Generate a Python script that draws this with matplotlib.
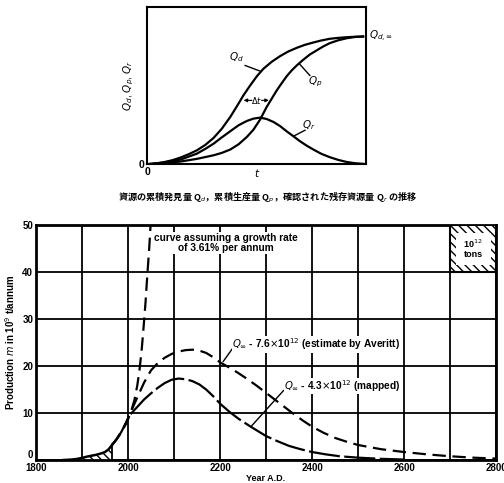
# Hubbert-style coal production cycles, with the Qd/Qp/Qr sketch above

import numpy as np
import matplotlib.pyplot as plt
from matplotlib.patches import Rectangle

plt.rcParams['font.family'] = ['Liberation Sans', 'DejaVu Sans']
plt.rcParams['hatch.linewidth'] = 1.0

# ---- data: top sketch (normalised time, normalised quantity) ----
qd_t = [0, .038, .076, .114, .152, .189, .227, .265, .303, .341, .379, .409, .439, .470,
        .500, .530, .568, .606, .644, .682, .720, .758, .795, .833, .871, .909, .947, .985]
qd_v = [0, .005, .016, .031, .052, .078, .109, .151, .206, .279, .370, .453, .539, .617,
        .688, .747, .802, .846, .883, .911, .935, .953, .969, .982, .989, .994, .998, 1.0]
qp_t = [0, .076, .152, .227, .303, .341, .379, .417, .455, .485, .515, .545, .568, .591,
        .614, .636, .659, .682, .712, .742, .773, .803, .833, .871, .909, .947, .985]
qp_v = [0, .008, .021, .042, .070, .089, .115, .156, .214, .271, .349, .448, .513, .578,
        .635, .688, .734, .773, .818, .859, .891, .922, .948, .970, .986, .996, 1.0]
qr_t = [0, .076, .152, .227, .265, .303, .341, .379, .417, .455, .485, .515, .545, .576,
        .606, .636, .667, .697, .727, .758, .795, .833, .871, .909, .947, .985]
qr_v = [0, .013, .036, .083, .120, .161, .211, .258, .305, .339, .357, .365, .354, .331,
        .299, .258, .219, .180, .146, .115, .081, .055, .034, .018, .008, .003]

# ---- data: bottom chart (year, 10^9 t/annum) ----
hist_years = [1860, 1870, 1880, 1890, 1900, 1910, 1920, 1930, 1940, 1950, 1958, 1966]
hist_prod = [0, 0.05, 0.12, 0.25, 0.45, 0.7, 0.9, 1.1, 1.35, 1.7, 2.3, 3.3]

exp_years = [1966, 1975, 1985, 1995, 2002, 2008, 2014, 2020, 2025, 2030, 2034, 2038, 2042, 2046, 2049]
exp_prod = [3.3, 4.4, 5.9, 7.6, 9.2, 10.8, 12.8, 15.8, 19.2, 23.8, 28.5, 33.5, 39.5, 45.0, 50.0]

av_years = [1966, 1975, 1985, 1995, 2005, 2020, 2035, 2050, 2065, 2080, 2095, 2110, 2125, 2140,
            2155, 2170, 2185, 2200, 2220, 2240, 2260, 2280, 2300, 2320, 2340, 2360, 2380, 2400,
            2425, 2450, 2475, 2500, 2550, 2600, 2650, 2700, 2750, 2800]
av_prod = [3.3, 4.4, 5.9, 7.8, 10.0, 13.3, 16.5, 19.1, 20.7, 21.8, 22.6, 23.1, 23.4, 23.5,
           23.3, 22.8, 21.9, 20.8, 19.7, 18.5, 17.2, 15.8, 14.3, 12.8, 11.3, 9.8, 8.4, 7.1,
           5.8, 4.7, 3.9, 3.2, 2.3, 1.7, 1.2, 0.8, 0.5, 0.3]

map_years = [1966, 1975, 1985, 1995, 2005, 2020, 2035, 2050, 2065, 2080, 2095, 2110, 2125, 2140,
             2155, 2170, 2185, 2200, 2220, 2240, 2265, 2285, 2300, 2325, 2350, 2375, 2400, 2430,
             2460, 2500, 2550, 2600]
map_prod = [3.3, 4.4, 5.9, 7.8, 9.7, 11.3, 12.9, 14.2, 15.4, 16.4, 17.1, 17.35, 17.2, 16.8,
            16.1, 15.0, 13.6, 12.0, 10.3, 8.8, 7.2, 6.0, 5.1, 4.0, 3.0, 2.3, 1.7, 1.2,
            0.8, 0.5, 0.25, 0.1]

year_ticks = [1800, 2000, 2200, 2400, 2600, 2800]
prod_ticks = [0, 10, 20, 30, 40, 50]

caption = "資源の累積発見量 Q$_d$，累積生産量 Q$_p$，確認された残存資源量 Q$_r$ の推移"

fig = plt.figure(figsize=(5.04, 4.83), dpi=100)

# ================= top sketch =================
ax1 = fig.add_axes([0.292, 0.660, 0.435, 0.325])
ax1.plot(qd_t, qd_v, color='black', lw=1.6)
ax1.plot(qp_t, qp_v, color='black', lw=1.6)
ax1.plot(qr_t, qr_v, color='black', lw=1.6)
ax1.set_xlim(0, 1)
ax1.set_ylim(0, 1.229)
ax1.set_xticks([0, 0.5])
ax1.set_xticklabels(['0', '$t$'], fontsize=7.5, fontweight='bold')
ax1.set_yticks([0])
ax1.set_yticklabels(['0'], fontsize=7.5, fontweight='bold')
ax1.tick_params(length=0, pad=2)
for s in ax1.spines.values():
    s.set_linewidth(1.5)
ax1.set_ylabel('$Q_d$, $Q_p$, $Q_r$', fontsize=7.5, labelpad=2)

ax1.text(0.409, 0.839, '$Q_d$', fontsize=7.5, ha='center', va='center')
ax1.plot([0.447, 0.515], [0.773, 0.729], color='black', lw=1)
ax1.text(0.765, 0.643, '$Q_p$', fontsize=7.5, ha='center', va='center')
ax1.plot([0.742, 0.697], [0.695, 0.781], color='black', lw=1)
ax1.text(0.735, 0.305, '$Q_r$', fontsize=7.5, ha='center', va='center')
ax1.plot([0.720, 0.667], [0.266, 0.219], color='black', lw=1)
ax1.text(0.5, 0.5, r'$\Delta t$', fontsize=6, ha='center', va='center')
ax1.annotate('', xy=(0.44, 0.5), xytext=(0.478, 0.5),
             arrowprops=dict(arrowstyle='-|>', lw=0.8, color='black',
                             mutation_scale=5, shrinkA=0, shrinkB=0))
ax1.annotate('', xy=(0.555, 0.5), xytext=(0.522, 0.5),
             arrowprops=dict(arrowstyle='-|>', lw=0.8, color='black',
                             mutation_scale=5, shrinkA=0, shrinkB=0))
ax1.text(1.01, 1.0, r'$Q_{d,\infty}$', fontsize=7.5, ha='left', va='center')

fig.text(0.532, 0.592, caption, fontsize=6.6, fontweight='bold', ha='center', va='center',
         family=['Noto Sans CJK JP', 'DejaVu Sans'])

# ================= bottom chart =================
ax = fig.add_axes([0.0714, 0.0476, 0.913, 0.486])
ax.set_xlim(1800, 2800)
ax.set_ylim(0, 50)
ax.set_xticks(np.arange(1800, 2801, 100))
ax.set_yticks(prod_ticks)
ax.set_xticklabels([str(y) if y in year_ticks else '' for y in range(1800, 2801, 100)],
                   fontsize=7, fontweight='bold')
ax.set_yticklabels([str(v) for v in prod_ticks], fontsize=7, fontweight='bold')
ax.get_yticklabels()[0].set_va('bottom')
ax.tick_params(length=0, pad=2)
ax.grid(True, color='black', lw=1.3)
ax.set_axisbelow(True)
for s in ax.spines.values():
    s.set_linewidth(2)

ax.plot(hist_years, hist_prod, color='black', lw=1.8)
ax.fill_between(hist_years, 0, hist_prod, facecolor='white', edgecolor='black',
                hatch='\\\\\\\\', lw=0)
ax.plot([hist_years[-1], hist_years[-1]], [0, hist_prod[-1]], color='black', lw=1.3)
ax.plot(exp_years, exp_prod, color='black', lw=1.6, dashes=(6, 3))
ax.plot(av_years, av_prod, color='black', lw=1.6, dashes=(6, 3))
ax.plot(map_years, map_prod, color='black', lw=1.6, dashes=(14, 2))

ax.text(2213, 46.2, 'curve assuming a growth rate\nof 3.61% per annum', fontsize=7.3,
        fontweight='bold', ha='center', va='center', linespacing=1.05,
        bbox=dict(facecolor='white', edgecolor='none', pad=0.5))
ax.text(2226, 24.6, r'$Q_\infty$ - 7.6$\times$10$^{12}$ (estimate by Averitt)', fontsize=7.3,
        fontweight='bold', ha='left', va='center',
        bbox=dict(facecolor='white', edgecolor='none', pad=0.3))
ax.plot([2226, 2207], [23.6, 21], color='black', lw=1)
ax.text(2340, 15.8, r'$Q_\infty$ - 4.3$\times$10$^{12}$ (mapped)', fontsize=7.3,
        fontweight='bold', ha='left', va='center',
        bbox=dict(facecolor='white', edgecolor='none', pad=0.3))
ax.plot([2338, 2268], [14.8, 7.2], color='black', lw=1)

ax.add_patch(Rectangle((2700, 40), 100, 10, facecolor='white', edgecolor='black',
                       hatch='\\\\\\\\', lw=1.5, zorder=3))
ax.add_patch(Rectangle((2712, 41.6), 76, 6.8, facecolor='white', edgecolor='none', zorder=4))
ax.text(2750, 45, '10$^{12}$\ntons', fontsize=6.5, fontweight='bold', ha='center',
        va='center', zorder=5, linespacing=1.0)

ax.set_xlabel('Year A.D.', fontsize=6.5, fontweight='bold', labelpad=1)
ax.set_ylabel('Production $m$ in 10$^9$ t/annum', fontsize=7, fontweight='bold', labelpad=4)

plt.savefig('out.png', dpi=100)
